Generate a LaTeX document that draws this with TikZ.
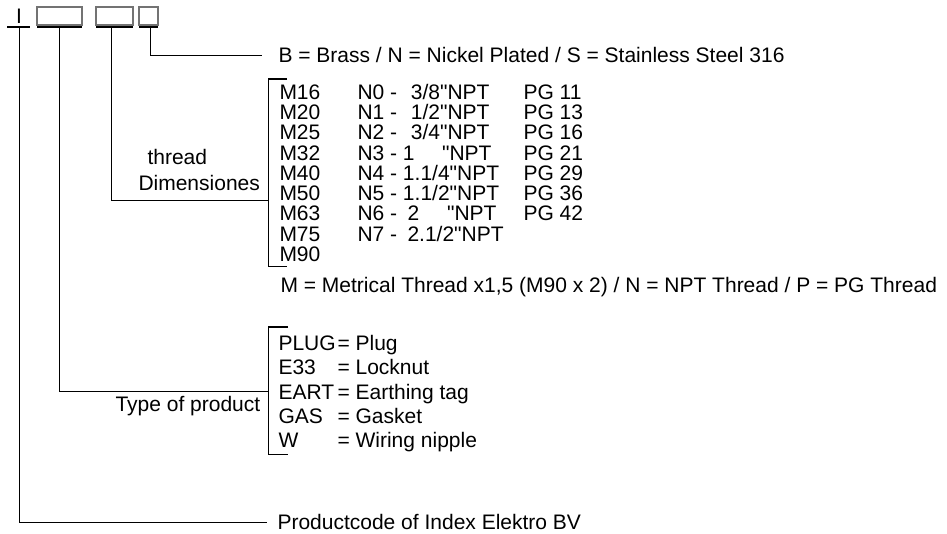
\documentclass[tikz,border=0pt]{standalone}
\usepackage{fontspec}
\setmainfont{Liberation Sans}[Ligatures=TeXOff]
\begin{document}
\begin{tikzpicture}[x=1pt,y=-1pt,line width=1pt,
  txt/.style={anchor=base west,inner sep=0pt,font=\fontsize{21}{21}\selectfont},
  txte/.style={anchor=base east,inner sep=0pt,font=\fontsize{21}{21}\selectfont},
  codebox/.style={draw=black!55,line width=1.3pt,inner sep=0pt,minimum height=18pt},
  bar/.style={line width=2pt},
  conn/.style={line width=1pt},
  tick/.style={line width=2pt}]
\useasboundingbox (0,0) rectangle (947,534);
% top code
\node[anchor=base,inner sep=0pt,font=\fontsize{21}{21}\selectfont] (I) at (19,23.5) {I};
\node[codebox,minimum width=45pt] (box1) at (59.5,16) {};
\node[codebox,minimum width=37pt] (box2) at (114.5,16) {};
\node[codebox,minimum width=19pt] (box3) at (148.5,16) {};
\coordinate (b0l) at (7,27.5);   \coordinate (b0r) at (30,27.5);
\coordinate (b1l) at (37,27.5);  \coordinate (b1r) at (82,27.5);
\coordinate (b2l) at (96,27.5);  \coordinate (b2r) at (133,27.5);
\coordinate (b3l) at (139,27.5); \coordinate (b3r) at (158,27.5);
\draw[bar] (b0l) -- (b0r);
\draw[bar] (b1l) -- (b1r);
\draw[bar] (b2l) -- (b2r);
\draw[bar] (b3l) -- (b3r);
% connector starts
\coordinate (s0) at (19,28.5);
\coordinate (s1) at (59,28.5);
\coordinate (s2) at (111,28.5);
\coordinate (s3) at (150,28.5);
% connector ends
\coordinate (e0) at (267,522.5);
\coordinate (e1) at (268,391);
\coordinate (e2) at (268,200.5);
\coordinate (e3) at (262,56);
\draw[conn] (s0) |- (e0);
\draw[conn] (s1) |- (e1);
\draw[conn] (s2) |- (e2);
\draw[conn] (s3) |- (e3);
% brackets
\coordinate (t2a) at (287,79);  \coordinate (t2b) at (268,79);
\coordinate (t2c) at (268,267); \coordinate (t2d) at (287,267);
\draw[tick] (t2a) -- (t2b);
\draw[conn] (t2b) -- (t2c) -- (t2d);
\coordinate (t1a) at (288,327);  \coordinate (t1b) at (268,327);
\coordinate (t1c) at (268,454);  \coordinate (t1d) at (288,454);
\draw[tick] (t1a) -- (t1b);
\draw[conn] (t1b) -- (t1c) -- (t1d);
% texts
\node[txt] (mat) at (278,63) {B = Brass / N = Nickel Plated / S = Stainless Steel 316};
\node[txt] (thr) at (147,164.5) {thread};
\node[txt] (dim) at (138,190.5) {Dimensiones};
% M column
\foreach \t [count=\i from 0] in {M16,M20,M25,M32,M40,M50,M63,M75,M90}
  \node[txt] (m\i) at (279,99.5+20.25*\i) {\t};
% N column
\node[txt] (n0) at (357,99.5) {N0 -};
\node[txte] (v0) at (490,99.5) {3/8"NPT};
\node[txt] (n1) at (357,119.75) {N1 -};
\node[txte] (v1) at (490,119.75) {1/2"NPT};
\node[txt] (n2) at (357,140) {N2 -};
\node[txte] (v2) at (490,140) {3/4"NPT};
\node[txt] (n3) at (357,160.25) {N3 - 1};
\node[txte] (v3) at (492,160.25) {"NPT};
\node[txt] (n4) at (357,180.5) {N4 - 1.1/4"NPT};
\node[txt] (n5) at (357,200.75) {N5 - 1.1/2"NPT};
\node[txt] (n6) at (357,221) {N6 -};
\node[txt] (w6) at (407,221) {2};
\node[txte] (v6) at (497,221) {"NPT};
\node[txt] (n7) at (357,241.25) {N7 -};
\node[txt] (v7) at (407,241.25) {2.1/2"NPT};
% PG column
\foreach \t [count=\i from 0] in {11,13,16,21,29,36,42}
  \node[txt] (p\i) at (523,99.5+20.25*\i) {PG \t};
\node[txt] (leg) at (280,292.5) {M = Metrical Thread x1,5 (M90 x 2) / N = NPT Thread / P = PG Thread};
% product types
\node[txt] (tp) at (115,411) {Type of product};
\foreach \k/\v [count=\i from 0] in {PLUG/Plug,E33/Locknut,EART/Earthing tag,GAS/Gasket,W/Wiring nipple}{
  \node[txt] (k\i) at (278,350.5+24.25*\i) {\k};
  \node[txt] (q\i) at (337,350.5+24.25*\i) {= \v};
}
\node[txt] (pc) at (277,529) {Productcode of Index Elektro BV};
\end{tikzpicture}
\end{document}
